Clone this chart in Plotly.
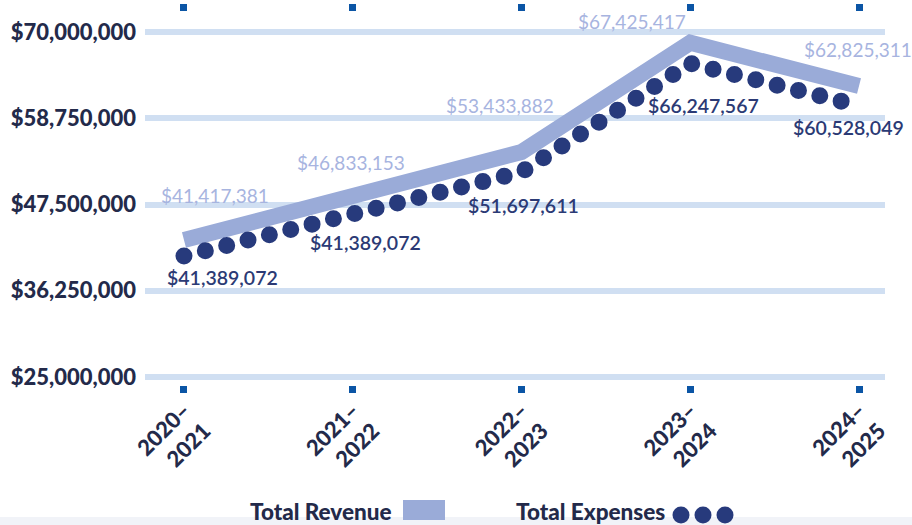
import plotly.graph_objects as go

# Chart data (label texts as printed)
years = ["2020–<br>2021", "2021–<br>2022", "2022–<br>2023", "2023–<br>2024", "2024–<br>2025"]
revenue = [42870000, 48740000, 54350000, 68600000, 62960000]
expenses = [40780000, 46400000, 51740000, 65900000, 60400000]
revenue_labels = ["$41,417,381", "$46,833,153", "$53,433,882", "$67,425,417", "$62,825,311"]
expense_labels = ["$41,389,072", "$41,389,072", "$51,697,611", "$66,247,567", "$60,528,049"]
y_ticks = [25000000, 36250000, 47500000, 58750000, 70000000]

# label offsets in px (dx, dy with dy positive = down)
rev_off = [(31, -45), (-2, -33), (-22, -46), (-58, -21), (-1, -36)]
exp_off = [(39, 21), (13, 30), (2, 33), (13, 42), (-11, 22)]

NAVY = "#232a4a"
REV = "#9aabd8"
EXP = "#273a7c"
FONT = "Lato"

W, H = 912, 525
L, R, T, B = 145, 27, 12, 140
idx = list(range(len(years)))


def px(x):
    return (x - L) / (W - L - R)


def py(y):
    return (H - B - y) / (H - T - B)


fig = go.Figure()

fig.add_trace(go.Scatter(x=idx, y=revenue, mode="lines", name="Total Revenue",
                         line=dict(color=REV, width=16), hoverinfo="skip"))
fig.add_trace(go.Scatter(x=idx, y=expenses, mode="lines", name="Total Expenses",
                         line=dict(color=EXP, width=17, dash="0px,22px"), hoverinfo="skip"))

ann = []
for i in idx:
    dx, dy = rev_off[i]
    ann.append(dict(x=i, y=revenue[i], xref="x", yref="y", text=revenue_labels[i],
                    showarrow=False, xshift=dx, yshift=-dy,
                    font=dict(family=FONT, size=19, color="#a7b4df")))
    dx, dy = exp_off[i]
    ann.append(dict(x=i, y=expenses[i], xref="x", yref="y", text=expense_labels[i],
                    showarrow=False, xshift=dx, yshift=-dy,
                    font=dict(family=FONT, size=19.5, color="#2b3a75", weight=600)))

# legend (text left of symbol)
ann.append(dict(x=px(394), y=py(511), xref="paper", yref="paper", text="Total Revenue",
                showarrow=False, xanchor="right", yanchor="middle",
                font=dict(family=FONT, size=22.5, color=NAVY, weight=900)))
ann.append(dict(x=px(667), y=py(511), xref="paper", yref="paper", text="Total Expenses",
                showarrow=False, xanchor="right", yanchor="middle",
                font=dict(family=FONT, size=22.5, color=NAVY, weight=900)))

shapes = [
    dict(type="rect", xref="paper", yref="paper", x0=px(0), x1=px(W), y0=py(517), y1=py(H),
         fillcolor="#f1f3f8", line=dict(width=0), layer="below"),
    dict(type="rect", xref="paper", yref="paper", x0=px(403), x1=px(445), y0=py(520), y1=py(500),
         fillcolor=REV, line=dict(width=0)),
]
for cx in (681, 703, 725):
    shapes.append(dict(type="circle", xref="paper", yref="paper",
                       x0=px(cx - 8.5), x1=px(cx + 8.5), y0=py(515 + 8.5), y1=py(515 - 8.5),
                       fillcolor=EXP, line=dict(width=0)))

fig.update_layout(
    width=W, height=H,
    margin=dict(l=L, r=R, t=T, b=B),
    plot_bgcolor="white", paper_bgcolor="white",
    showlegend=False,
    annotations=ann, shapes=shapes,
    xaxis=dict(range=[-0.231, 4.154], tickmode="array", tickvals=idx, ticktext=years,
               tickangle=-45, ticks="outside", ticklen=7, tickwidth=7, tickcolor="#0b55a5",
               mirror="ticks", ticklabelstandoff=-4,
               showgrid=False, zeroline=False, showline=False,
               tickfont=dict(family=FONT, size=22, color=NAVY, weight=900)),
    yaxis=dict(range=[23957000, 72609000], tickvals=y_ticks, tickformat="$,.0f",
               showgrid=True, gridcolor="#d0dff2", gridwidth=6,
               zeroline=False, showline=False, ticks="", ticklabelstandoff=8,
               tickfont=dict(family=FONT, size=22, color=NAVY, weight=900)),
)

# no page margin; round caps turn the dashed expense line into a row of dots
post = """
document.body.style.margin = '0';
var gd = document.getElementById('{plot_id}');
gd.querySelectorAll('.scatterlayer .trace path.js-line').forEach(function(p){
  if ((p.style.strokeDasharray || '').indexOf('22') >= 0) { p.style.strokeLinecap = 'round'; }
});
"""

fig.write_html("out.html", post_script=post, config={"displayModeBar": False})
